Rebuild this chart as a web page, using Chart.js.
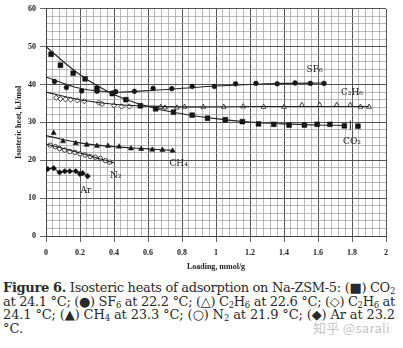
<!DOCTYPE html>
<html>
<head>
<meta charset="utf-8">
<script src="https://cdn.jsdelivr.net/npm/chart.js@4.4.1/dist/chart.umd.min.js"></script>
<style>
  body { margin: 0; background: #fff; width: 403px; height: 348px; overflow: hidden; position: relative; }
  #wrap { position: absolute; left: 0; top: 0; width: 403px; height: 272px; }
  #caption { position: absolute; left: 3px; top: 281px; width: 392px; font-family: 'DejaVu Serif', serif; font-size: 13px; line-height: 13.6px; color: #2a2a2a; }
  #caption div { white-space: nowrap; }
  #caption sub { font-size: 8.5px; vertical-align: -2px; line-height: 0; }
  #wm { position: absolute; left: 313px; top: 320px; font-family: 'Noto Sans CJK SC', sans-serif; font-size: 13px; line-height: 16px; color: #c4c4c4; letter-spacing: 0.3px; }
</style>
</head>
<body>
<div id="wrap"><canvas id="chart" width="403" height="272"></canvas></div>
<div id="caption">
  <div class="fit"><b>Figure 6.</b> Isosteric heats of adsorption on Na-ZSM-5: (&#9632;) CO<sub>2</sub></div>
  <div class="fit">at 24.1 °C; (&#9679;) SF<sub>6</sub> at 22.2 °C; (&#9651;) C<sub>2</sub>H<sub>6</sub> at 22.6 °C; (&#9671;) C<sub>2</sub>H<sub>6</sub> at</div>
  <div class="fit">24.1 °C; (&#9650;) CH<sub>4</sub> at 23.3 °C; (&#9675;) N<sub>2</sub> at 21.9 °C; (&#9670;) Ar at 23.2</div>
  <div>°C.</div>
</div>
<div id="wm">知乎 @sarali</div>
<script>
// measured points (loading mmol/g, heat kJ/mol)
const co2X = [0.03, 0.085, 0.16, 0.23, 0.30, 0.39, 0.47, 0.555, 0.645, 0.75, 0.86, 0.95, 1.055, 1.155, 1.25, 1.34, 1.43, 1.52, 1.595, 1.67, 1.755, 1.835];
const co2Y = [48.0, 45.1, 43.0, 41.5, 39.0, 37.6, 36.0, 34.4, 33.6, 32.7, 31.9, 31.1, 30.7, 30.2, 29.6, 29.5, 29.3, 29.3, 29.5, 29.5, 29.1, 29.0];

const sf6X = [0.05, 0.12, 0.21, 0.30, 0.39, 0.41, 0.52, 0.63, 0.74, 0.86, 0.99, 1.115, 1.235, 1.36, 1.465, 1.555, 1.635];
const sf6Y = [40.8, 39.2, 38.3, 38.2, 37.7, 38.1, 38.2, 39.0, 38.9, 39.5, 39.5, 40.2, 40.3, 40.2, 40.4, 40.3, 40.3];

const c2h6aX = [0.675, 0.70, 0.77, 0.815, 0.925, 1.045, 1.16, 1.28, 1.40, 1.505, 1.61, 1.71, 1.79, 1.85, 1.90];
const c2h6aY = [34.1, 33.9, 33.9, 34.1, 34.1, 34.1, 34.2, 34.1, 34.1, 34.6, 34.6, 34.6, 34.6, 34.1, 34.1];

const c2h6bX = [0.06, 0.085, 0.115, 0.145, 0.185, 0.225, 0.31, 0.33, 0.40, 0.445, 0.49];
const c2h6bY = [36.5, 36.2, 36.1, 36.0, 35.8, 35.6, 35.2, 34.9, 34.5, 34.2, 34.2];

const ch4X = [0.045, 0.10, 0.175, 0.24, 0.30, 0.365, 0.43, 0.50, 0.56, 0.625, 0.685, 0.745];
const ch4Y = [27.2, 25.0, 24.5, 24.1, 23.8, 23.8, 23.6, 23.1, 23.0, 22.8, 22.7, 22.5];

const n2X = [0.025, 0.055, 0.08, 0.11, 0.14, 0.17, 0.20, 0.23, 0.26, 0.29, 0.32, 0.35, 0.375];
const n2Y = [24.0, 23.6, 23.1, 22.7, 22.3, 22.1, 21.7, 21.4, 21.0, 20.8, 20.5, 19.9, 19.5];

const arX = [0.01, 0.045, 0.08, 0.11, 0.14, 0.175, 0.20, 0.215, 0.245];
const arY = [17.7, 17.9, 16.8, 17.1, 17.1, 17.1, 16.4, 16.6, 15.8];

// drawn trend curves
const co2FitX = [0, 0.2, 0.4, 0.6, 0.8, 1.0, 1.2, 1.4, 1.6, 1.75];
const co2FitY = [50, 42.6, 37.4, 34.2, 32.3, 31.0, 30.1, 29.6, 29.3, 29.2];
const sf6FitX = [0, 0.2, 0.4, 0.6, 0.8, 1.0, 1.2, 1.4, 1.65];
const sf6FitY = [42, 39.0, 38.0, 38.4, 39.0, 39.6, 40.0, 40.3, 40.4];
const c2h6FitX = [0, 0.2, 0.4, 0.6, 0.8, 1.2, 1.6, 1.9];
const c2h6FitY = [38, 36.0, 34.8, 34.3, 34.1, 34.2, 34.2, 34.2];
const ch4FitX = [0, 0.2, 0.4, 0.6, 0.75];
const ch4FitY = [26.5, 24.6, 23.6, 23.0, 22.6];
const n2FitX = [0, 0.2, 0.4];
const n2FitY = [24.3, 21.9, 19.3];

// curve labels
const labelText = ['SF₆', 'C₂H₆', 'CO₂', 'CH₄', 'N₂', 'Ar'];
const labelX = [1.58, 1.80, 1.80, 0.78, 0.41, 0.235];
const labelY = [43.8, 37.8, 25.0, 19.2, 16.0, 12.0];

const xTickLabels = ['0', '0.2', '0.4', '0.6', '0.8', '1', '1.2', '1.4', '1.6', '1.8', '2'];

// stretch caption lines to the full width, like the typeset original
document.querySelectorAll('#caption .fit').forEach(el => {
    el.style.display = 'inline-block';
    const w = el.getBoundingClientRect().width;
    const n = el.textContent.trim().length;
    el.style.letterSpacing = ((392 - w) / n) + 'px';
    el.style.display = 'block';
});

function pts(xs, ys) {
    return xs.map((x, i) => ({ x: x, y: ys[i] }));
}

function markers(xs, ys, style, filled, r) {
    return {
        data: pts(xs, ys),
        showLine: false,
        pointStyle: style,
        pointRadius: r,
        pointBackgroundColor: filled ? '#111' : '#fff',
        pointBorderColor: '#111',
        pointBorderWidth: filled ? 0.5 : 0.8
    };
}

function fit(xs, ys) {
    return {
        data: pts(xs, ys),
        showLine: true,
        tension: 0.4,
        pointRadius: 0,
        borderColor: '#222',
        borderWidth: 1.1
    };
}

const isMajorX = v => Math.abs(v * 5 - Math.round(v * 5)) < 1e-6;
const isMajorY = v => Math.abs(v / 10 - Math.round(v / 10)) < 1e-6;

const labelsPlugin = {
    id: 'curveLabels',
    afterDatasetsDraw(chart) {
        const ctx = chart.ctx;
        const xs = chart.scales.x, ys = chart.scales.y;
        ctx.save();
        ctx.fillStyle = '#222';
        ctx.font = '9px "DejaVu Serif", serif';
        ctx.textAlign = 'center';
        ctx.textBaseline = 'middle';
        labelText.forEach((t, i) => {
            ctx.fillText(t, xs.getPixelForValue(labelX[i]), ys.getPixelForValue(labelY[i]));
        });
        // little leader above the CO2 label
        ctx.strokeStyle = '#222';
        ctx.lineWidth = 1;
        ctx.beginPath();
        ctx.moveTo(xs.getPixelForValue(1.79), ys.getPixelForValue(30.5));
        ctx.lineTo(xs.getPixelForValue(1.79), ys.getPixelForValue(28.0));
        ctx.stroke();
        ctx.restore();
    }
};

const ctx = document.getElementById('chart').getContext('2d');

new Chart(ctx, {
    type: 'scatter',
    data: {
        datasets: [
            fit(co2FitX, co2FitY),
            fit(sf6FitX, sf6FitY),
            fit(c2h6FitX, c2h6FitY),
            fit(ch4FitX, ch4FitY),
            fit(n2FitX, n2FitY),
            Object.assign(markers(arX, arY, 'rectRot', true, 2.8), { showLine: true, borderColor: '#222', borderWidth: 1.1 }),
            markers(co2X, co2Y, 'rect', true, 3.4),
            markers(sf6X, sf6Y, 'circle', true, 2.4),
            markers(c2h6aX, c2h6aY, 'triangle', false, 2.8),
            markers(c2h6bX, c2h6bY, 'rectRot', false, 2.6),
            markers(ch4X, ch4Y, 'triangle', true, 3.0),
            markers(n2X, n2Y, 'circle', false, 2.2)
        ]
    },
    options: {
        responsive: false,
        animation: false,
        layout: { padding: { left: 0, right: 17, top: 7, bottom: 0 } },
        scales: {
            x: {
                type: 'linear',
                min: 0,
                max: 2,
                afterFit: (scale) => { scale.height = 36; },
                afterBuildTicks: (scale) => {
                    // 0.04 steps, built as integers to avoid float drift
                    const t = [];
                    for (let i = 0; i <= 50; i++) t.push({ value: i / 25 });
                    scale.ticks = t;
                },
                ticks: {
                    autoSkip: false,
                    maxRotation: 0,
                    padding: 6,
                    color: '#222',
                    font: { family: '"Liberation Serif", serif', size: 8, weight: 'bold' },
                    callback: (v) => isMajorX(v) ? xTickLabels[Math.round(v * 5)] : ''
                },
                grid: {
                    color: (c) => isMajorX(c.tick.value) ? '#555' : '#9c9c9c',
                    lineWidth: (c) => isMajorX(c.tick.value) ? 1 : 0.7,
                    tickLength: 6,
                    tickColor: (c) => isMajorX(c.tick.value) ? '#666' : 'rgba(0,0,0,0)'
                },
                border: { color: '#444', width: 1 },
                title: {
                    display: true,
                    text: 'Loading, mmol/g',
                    color: '#222',
                    padding: { top: 4, bottom: 0 },
                    font: { family: '"Liberation Serif", serif', size: 8, weight: 'bold' }
                }
            },
            y: {
                min: 0,
                max: 60,
                afterFit: (scale) => { scale.width = 46; },
                ticks: {
                    stepSize: 2,
                    autoSkip: false,
                    padding: 4,
                    color: '#222',
                    font: { family: '"Liberation Serif", serif', size: 8, weight: 'bold' },
                    callback: (v) => isMajorY(v) ? String(v) : ''
                },
                grid: {
                    color: (c) => isMajorY(c.tick.value) ? '#555' : '#9c9c9c',
                    lineWidth: (c) => isMajorY(c.tick.value) ? 1 : 0.7,
                    tickLength: 6,
                    tickColor: (c) => isMajorY(c.tick.value) ? '#666' : 'rgba(0,0,0,0)'
                },
                border: { color: '#444', width: 1 },
                title: {
                    display: true,
                    text: 'Isosteric heat, kJ/mol',
                    color: '#222',
                    padding: { top: 14, bottom: 0 },
                    font: { family: '"Liberation Serif", serif', size: 8, weight: 'bold' }
                }
            }
        },
        plugins: {
            legend: { display: false },
            tooltip: { enabled: false }
        }
    },
    plugins: [labelsPlugin]
});
</script>
</body>
</html>
